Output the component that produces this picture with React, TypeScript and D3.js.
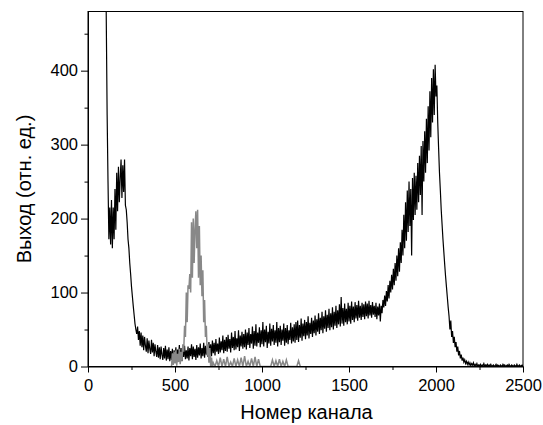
import React, { useEffect, useRef } from 'react';
import * as d3 from 'd3';

// black spectrum: channels 100..2500, step 5
const blackStart = 100;
const blackStep = 5;
const blackValues = [
  620, 470, 340, 250, 172, 215, 165, 225, 160, 215, 172, 240, 185, 262, 210, 270, 222, 255, 280, 228,
  272, 236, 280, 218, 212, 195, 172, 160, 140, 125, 108, 95, 82, 70, 58, 50, 44, 54, 36, 48,
  28, 46, 26, 42, 22, 40, 28, 20, 38, 18, 35, 24, 17, 36, 19, 32, 14, 30, 20, 13,
  29, 12, 26, 10, 27, 16, 9, 25, 11, 28, 8, 23, 10, 26, 7, 21, 9, 24, 6, 22,
  10, 26, 8, 23, 12, 29, 9, 25, 7, 24, 13, 28, 10, 22, 11, 27, 8, 25, 14, 30,
  10, 27, 13, 24, 9, 29, 12, 26, 15, 31, 11, 25, 14, 32, 12, 28, 16, 26, 13, 33,
  16, 30, 14, 35, 18, 32, 15, 37, 20, 31, 17, 39, 19, 34, 22, 42, 18, 36, 21, 40,
  20, 43, 24, 37, 19, 46, 25, 40, 22, 48, 23, 38, 26, 49, 21, 42, 27, 47, 24, 44,
  26, 50, 23, 46, 29, 52, 25, 44, 31, 54, 24, 48, 28, 57, 27, 46, 32, 53, 26, 49,
  30, 60, 27, 50, 33, 55, 25, 47, 31, 58, 28, 51, 34, 56, 29, 49, 32, 60, 27, 52,
  33, 55, 29, 50, 35, 58, 28, 52, 32, 56, 30, 49, 36, 59, 31, 53, 34, 57, 32, 60,
  36, 62, 33, 56, 39, 65, 35, 58, 41, 63, 37, 60, 42, 68, 38, 59, 44, 66, 40, 62,
  45, 69, 42, 64, 47, 72, 44, 66, 49, 74, 45, 68, 51, 76, 47, 70, 52, 78, 49, 72,
  53, 80, 50, 74, 55, 82, 52, 76, 57, 84, 54, 94, 58, 79, 55, 85, 60, 78, 57, 86,
  61, 82, 58, 88, 63, 81, 60, 87, 65, 83, 62, 89, 66, 82, 63, 86, 67, 84, 64, 88,
  68, 85, 65, 89, 69, 83, 66, 87, 70, 82, 67, 86, 64, 81, 69, 85, 61, 82, 72, 90,
  80, 96, 82, 102, 88, 110, 92, 116, 100, 124, 104, 132, 110, 140, 116, 150, 122, 160, 128, 168,
  140, 185, 150, 205, 160, 222, 170, 238, 182, 250, 190, 240, 150, 255, 198, 262, 205, 258, 212, 275,
  222, 285, 232, 298, 205, 305, 250, 318, 262, 335, 275, 352, 292, 372, 310, 390, 330, 402, 340, 408,
  365, 380, 330, 295, 262, 238, 212, 192, 172, 155, 138, 122, 108, 94, 80, 68, 50, 62, 40, 48,
  32, 40, 26, 33, 20, 27, 15, 21, 11, 16, 8, 12, 6, 9, 4, 7, 3, 6, 2, 5,
  1, 4, 2, 5, 0, 3, 1, 4, 0, 2, 1, 3, 0, 2, 1, 4, 0, 2, 1, 3,
  0, 2, 1, 3, 0, 1, 2, 0, 1, 3, 0, 2, 1, 0, 2, 1, 0, 3, 1, 2,
  0, 1, 2, 0, 3, 1, 0, 2, 1, 0, 2, 1, 0, 3, 0, 1, 2, 0, 1, 2,
  1,
];

// grey peak: channels 480..720, step 5
const greyPeakStart = 480;
const greyPeakStep = 5;
const greyPeakValues = [
  0, 18, 2, 20, 4, 22, 1, 17, 6, 24,
  3, 20, 8, 30, 20, 55, 40, 100, 60, 110,
  105, 125, 100, 195, 120, 200, 140, 185, 210, 160,
  212, 120, 190, 110, 150, 95, 130, 60, 90, 40,
  55, 15, 30, 5, 25, 0, 12, 0, 5,
];

// grey tail: channels 730..1220, step 10
const greyTailStart = 730;
const greyTailStep = 10;
const greyTailValues = [
  0, 8, 0, 12, 0, 10, 0, 13, 0, 6,
  0, 11, 0, 9, 0, 12, 0, 14, 0, 7,
  0, 11, 0, 13, 0, 10, 0, 0, 0, 0,
  0, 0, 0, 9, 0, 8, 0, 10, 0, 7,
  0, 9, 0, 0, 0, 0, 0, 0, 8, 0,
];

const xTicks = [0, 500, 1000, 1500, 2000, 2500];
const yTicks = [0, 100, 200, 300, 400];

function App() {
  const svgRef = useRef(null);
  const width = 543;
  const height = 425;

  useEffect(() => {
    const margin = { top: 11.5, right: 20, bottom: 58.5, left: 88 };
    const w = width - margin.left - margin.right;
    const h = height - margin.top - margin.bottom;

    const svg = d3.select(svgRef.current);
    svg.selectAll('*').remove();
    svg.attr('width', width).attr('height', height);

    const g = svg.append('g').attr('transform', `translate(${margin.left},${margin.top})`);

    const x = d3.scaleLinear().domain([0, 2500]).range([0, w]);
    const y = d3.scaleLinear().domain([0, 480]).range([h, 0]);

    svg.append('defs').append('clipPath').attr('id', 'plot-clip')
      .append('rect').attr('width', w).attr('height', h);

    const black = blackValues.map((v, i) => [blackStart + i * blackStep, v]);
    const grey = greyPeakValues.map((v, i) => [greyPeakStart + i * greyPeakStep, v])
      .concat(greyTailValues.map((v, i) => [greyTailStart + i * greyTailStep, v]));

    const line = d3.line().x(d => x(d[0])).y(d => y(d[1]));

    const plot = g.append('g').attr('clip-path', 'url(#plot-clip)');
    plot.append('path').datum(black)
      .attr('d', line).attr('fill', 'none').attr('stroke', '#000').attr('stroke-width', 1.2);
    plot.append('path').datum(grey)
      .attr('d', line).attr('fill', 'none').attr('stroke', '#888').attr('stroke-width', 1.5);

    // frame
    g.append('rect').attr('width', w).attr('height', h)
      .attr('fill', 'none').attr('stroke', '#000').attr('stroke-width', 1);

    const font = '"Liberation Sans", Arial, sans-serif';
    const fmt = d3.format('d');

    // x axis
    const xAxis = g.append('g').attr('transform', `translate(0,${h})`)
      .call(d3.axisBottom(x).tickValues(xTicks).tickFormat(fmt).tickSize(6).tickSizeOuter(0).tickPadding(7));
    xAxis.selectAll('text').attr('font-size', 16.5).attr('font-family', font).attr('fill', '#000');
    g.append('g').attr('transform', `translate(0,${h})`)
      .call(d3.axisBottom(x).tickValues(d3.range(250, 2500, 500)).tickSize(3.5).tickSizeOuter(0).tickFormat(() => ''))
      .select('.domain').remove();

    // y axis
    const yAxis = g.append('g')
      .call(d3.axisLeft(y).tickValues(yTicks).tickFormat(fmt).tickSize(7).tickSizeOuter(0).tickPadding(3));
    yAxis.selectAll('text').attr('font-size', 16.5).attr('font-family', font).attr('fill', '#000');
    g.append('g')
      .call(d3.axisLeft(y).tickValues(d3.range(50, 480, 100)).tickSize(3.5).tickSizeOuter(0).tickFormat(() => ''))
      .select('.domain').remove();

    // titles
    svg.append('text')
      .attr('x', 306.5).attr('y', 419)
      .attr('text-anchor', 'middle').attr('font-size', 20).attr('font-family', font)
      .text('Номер канала');
    svg.append('text')
      .attr('transform', 'translate(31,189) rotate(-90)')
      .attr('text-anchor', 'middle').attr('font-size', 20).attr('font-family', font)
      .text('Выход (отн. ед.)');
  }, []);

  return <svg ref={svgRef} style={{ position: 'absolute', left: 0, top: 0 }} />;
}

export default App;
